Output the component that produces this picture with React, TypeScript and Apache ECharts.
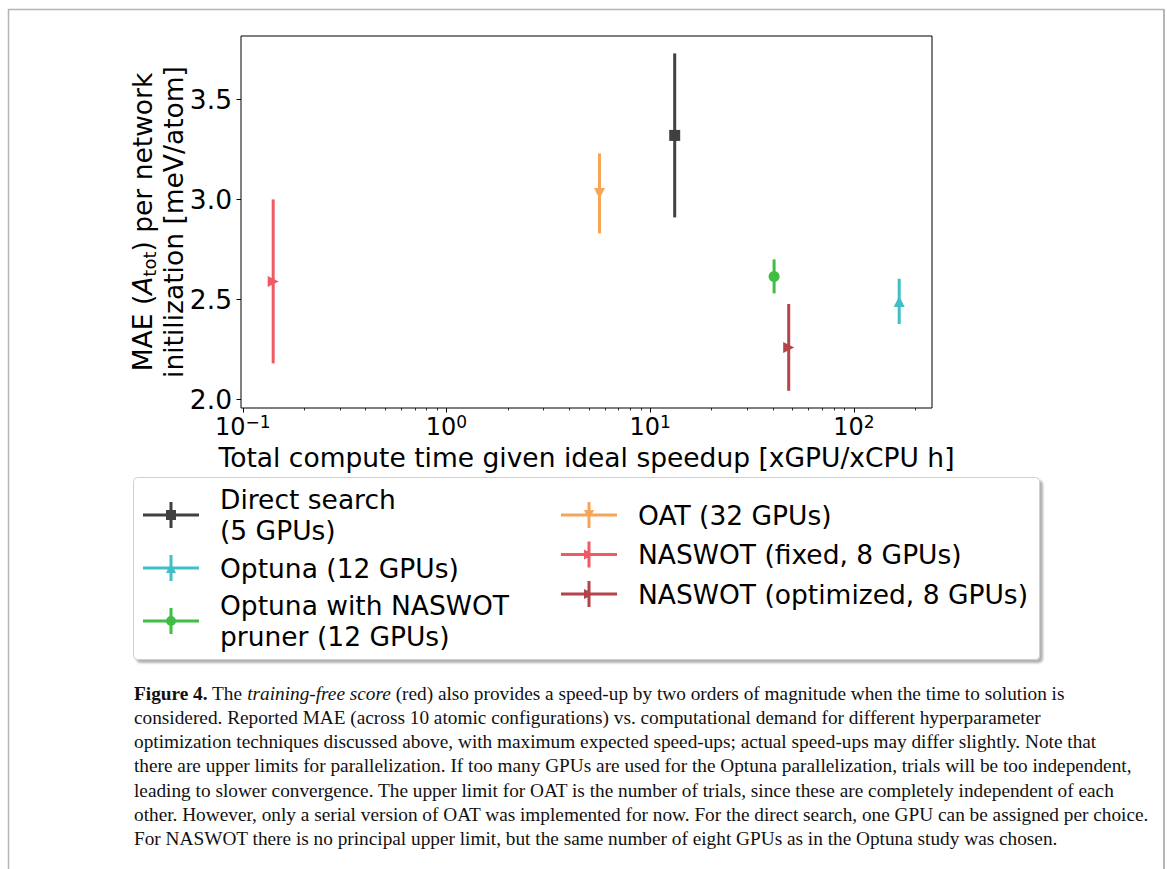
import React, { useEffect, useRef } from "react";
import * as echarts from "echarts";

// ---------- data ----------
const methodNames = [
  "Direct search\n(5 GPUs)",
  "Optuna (12 GPUs)",
  "Optuna with NASWOT\npruner (12 GPUs)",
  "OAT (32 GPUs)",
  "NASWOT (fixed, 8 GPUs)",
  "NASWOT (optimized, 8 GPUs)",
];
const computeTime = [13.2, 167, 40.6, 5.64, 0.141, 47.9];
const maeMean = [3.32, 2.49, 2.615, 3.03, 2.59, 2.26];
const maeErr = [0.41, 0.113, 0.085, 0.2, 0.41, 0.217];
const methodColors = ["#404040", "#41bec6", "#3fbe44", "#f7a658", "#ef5a64", "#b4444a"];
const markerKinds = ["square", "triangleUp", "circle", "triangleDown", "triangleRight", "triangleRight"];
const legendColumnLeft = [0, 1, 2];
const legendColumnRight = [3, 4, 5];

const xMajorTicks = [0.1, 1, 10, 100];
const xMinorTicks = [0.2, 0.3, 0.4, 0.5, 0.6, 0.7, 0.8, 0.9, 2, 3, 4, 5, 6, 7, 8, 9, 20, 30, 40, 50, 60, 70, 80, 90, 200];
const yTicks = [2.0, 2.5, 3.0, 3.5];
const xLimits = [0.098, 242];
const yLimits = [1.957, 3.817];

const xAxisTitle = "Total compute time given ideal speedup [xGPU/xCPU h]";
const yAxisTitle = "MAE ({i|A}{sub|tot}) per network\ninitilization [meV/atom]";

const captionLines = [
  "{b|Figure 4.} The {i|training-free score} (red) also provides a speed-up by two orders of magnitude when the time to solution is",
  "considered. Reported MAE (across 10 atomic configurations) vs. computational demand for different hyperparameter",
  "optimization techniques discussed above, with maximum expected speed-ups; actual speed-ups may differ slightly. Note that",
  "there are upper limits for parallelization. If too many GPUs are used for the Optuna parallelization, trials will be too independent,",
  "leading to slower convergence. The upper limit for OAT is the number of trials, since these are completely independent of each",
  "other. However, only a serial version of OAT was implemented for now. For the direct search, one GPU can be assigned per choice.",
  "For NASWOT there is no principal upper limit, but the same number of eight GPUs as in the Optuna study was chosen.",
];

// ---------- styling helpers ----------
const FONT = "DejaVu Sans";
const FS = 26.5;
const CAP_FS = 19.3;

const symbolFor: Record<string, [string, number]> = {
  square: ["rect", 0],
  triangleUp: ["triangle", 0],
  circle: ["circle", 0],
  triangleDown: ["triangle", 180],
  triangleRight: ["triangle", -90],
};

const bars = "M0 11.5H56V14.5H0Z M26.5 0H29.5V26H26.5Z ";
const iconMarker: Record<string, string> = {
  square: "M23 8H33V18H23Z",
  triangleUp: "M28 8L33 18H23Z",
  circle: "M33 13A5 5 0 1 1 23 13A5 5 0 1 1 33 13Z",
  triangleDown: "M23 8H33L28 18Z",
  triangleRight: "M23 8L33 13L23 18Z",
};

function legendData(idx: number[]) {
  return idx.map((i) => ({
    name: methodNames[i],
    icon: "path://" + bars + iconMarker[markerKinds[i]],
  }));
}

function supExp(v: number) {
  const e = Math.round(Math.log10(v));
  const s = e < 0 ? "\u2212" + -e : String(e);
  return "{b|10}{s|" + s + "}";
}

export default function App() {
  const ref = useRef<HTMLDivElement>(null);

  useEffect(() => {
    if (!ref.current) return;
    const chart = echarts.init(ref.current, undefined, { renderer: "svg" });

    const scatterSeries = methodNames.map((name, i) => ({
      type: "scatter",
      name,
      data: [[computeTime[i], maeMean[i]]],
      symbol: symbolFor[markerKinds[i]][0],
      symbolRotate: symbolFor[markerKinds[i]][1],
      symbolSize: 11,
      itemStyle: { color: methodColors[i], opacity: 1 },
      z: 4,
      silent: true,
    }));

    const errSeries = methodNames.map((name, i) => ({
      type: "custom",
      name,
      data: [[computeTime[i], maeMean[i] - maeErr[i], maeMean[i] + maeErr[i]]],
      encode: { x: 0, y: [1, 2] },
      itemStyle: { color: methodColors[i] },
      z: 3,
      silent: true,
      renderItem: (params: any, api: any) => {
        const p1 = api.coord([api.value(0), api.value(1)]);
        const p2 = api.coord([api.value(0), api.value(2)]);
        return {
          type: "line",
          shape: { x1: p1[0], y1: p1[1], x2: p2[0], y2: p2[1] },
          style: { stroke: methodColors[i], lineWidth: 3 },
        };
      },
    }));

    const legendCommon = {
      orient: "vertical",
      padding: 0,
      itemWidth: 56,
      itemHeight: 26,
      selectedMode: false,
      textStyle: {
        fontFamily: FONT,
        fontSize: FS,
        lineHeight: 31,
        color: "#000",
        padding: [0, 0, 0, 16],
      },
    };

    const graphicElements: any[] = [
      { type: "line", silent: true, shape: { x1: 8.5, y1: 9, x2: 8.5, y2: 869 }, style: { stroke: "#b5b5b5", lineWidth: 1.5 } },
      { type: "line", silent: true, shape: { x1: 8, y1: 9.5, x2: 1164, y2: 9.5 }, style: { stroke: "#b5b5b5", lineWidth: 1.5 } },
      { type: "line", silent: true, shape: { x1: 1164, y1: 9, x2: 1164, y2: 869 }, style: { stroke: "#b5b5b5", lineWidth: 2 } },
      {
        type: "rect",
        silent: true,
        z: 0,
        shape: { x: 133.5, y: 477.5, width: 906, height: 182, r: 4 },
        style: {
          fill: "#fff",
          stroke: "#cfcfcf",
          lineWidth: 1,
          shadowBlur: 2,
          shadowOffsetX: 3,
          shadowOffsetY: 3,
          shadowColor: "rgba(0,0,0,0.3)",
        },
      },
      ...captionLines.map((line, i) => ({
        type: "text",
        silent: true,
        x: 134,
        y: 693 + i * 24.3,
        style: {
          text: line,
          fontFamily: "Liberation Serif",
          fontSize: CAP_FS,
          fill: "#111",
          align: "left",
          verticalAlign: "middle",
          rich: {
            b: { fontFamily: "Liberation Serif", fontSize: CAP_FS, fontWeight: "bold", fill: "#111", color: "#111" },
            i: { fontFamily: "Liberation Serif", fontSize: CAP_FS, fontStyle: "italic", fill: "#111", color: "#111" },
          },
        },
      })),
    ];

    chart.setOption({
      animation: false,
      backgroundColor: "#fff",
      textStyle: { fontFamily: FONT },
      grid: {
        left: 241,
        top: 36,
        width: 691,
        height: 372,
        show: true,
        borderColor: "#000",
        borderWidth: 1,
        backgroundColor: "transparent",
        containLabel: false,
        outerBoundsMode: "none",
      },
      xAxis: [
        {
          type: "log",
          logBase: 10,
          min: xLimits[0],
          max: xLimits[1],
          position: "bottom",
          name: xAxisTitle,
          nameLocation: "middle",
          nameGap: 36,
          nameMoveOverlap: false,
          nameTextStyle: { fontFamily: FONT, fontSize: FS, color: "#000" },
          axisLine: { show: false },
          axisTick: { show: true, inside: false, length: 4.5, customValues: xMajorTicks, lineStyle: { color: "#000", width: 1 } },
          axisLabel: {
            show: true,
            customValues: xMajorTicks,
            margin: 5,
            formatter: (v: number) => supExp(v),
            rich: {
              b: { fontFamily: FONT, fontSize: 24, lineHeight: 26, verticalAlign: "bottom", color: "#000" },
              s: { fontFamily: FONT, fontSize: 17, lineHeight: 12, verticalAlign: "top", color: "#000" },
            },
          },
          splitLine: { show: false },
          minorTick: { show: false },
        },
        {
          type: "log",
          logBase: 10,
          min: xLimits[0],
          max: xLimits[1],
          position: "bottom",
          axisLine: { show: false },
          axisTick: { show: true, inside: false, length: 2.5, customValues: xMinorTicks, lineStyle: { color: "#000", width: 0.8 } },
          axisLabel: { show: false },
          splitLine: { show: false },
        },
      ],
      yAxis: {
        type: "value",
        min: yLimits[0],
        max: yLimits[1],
        name: yAxisTitle,
        nameLocation: "middle",
        nameRotate: 90,
        nameGap: 52,
        nameMoveOverlap: false,
        nameTextStyle: {
          fontFamily: FONT,
          fontSize: FS,
          lineHeight: 31,
          color: "#000",
          align: "center",
          rich: {
            i: { fontFamily: FONT, fontSize: FS, fontStyle: "italic", lineHeight: 31, color: "#000" },
            sub: { fontFamily: FONT, fontSize: 18, lineHeight: 18, verticalAlign: "bottom", color: "#000" },
          },
        },
        axisLine: { show: false },
        axisTick: { show: true, inside: false, length: 4.5, customValues: yTicks, lineStyle: { color: "#000", width: 1 } },
        axisLabel: {
          customValues: yTicks,
          margin: 9,
          fontFamily: FONT,
          fontSize: FS,
          color: "#000",
          formatter: (v: number) => v.toFixed(1),
        },
        splitLine: { show: false },
      },
      legend: [
        { ...legendCommon, left: 143, top: 484, itemGap: 6.5, data: legendData(legendColumnLeft) },
        { ...legendCommon, left: 561, top: 499.5, itemGap: 8.5, data: legendData(legendColumnRight) },
      ],
      graphic: { elements: graphicElements },
      series: [...scatterSeries, ...errSeries],
    });

    return () => chart.dispose();
  }, []);

  return (
    <div
      ref={ref}
      style={{ position: "absolute", left: 0, top: 0, width: 1167, height: 869 }}
    />
  );
}
